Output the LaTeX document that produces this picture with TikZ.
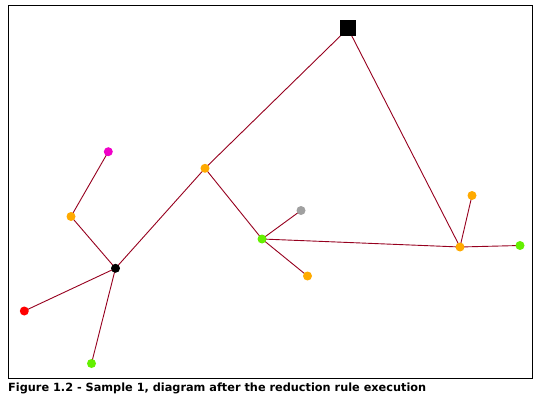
\documentclass[tikz,border=0pt]{standalone}
\usepackage{fontspec}
\setmainfont{DejaVu Sans}
\usetikzlibrary{backgrounds}
\begin{document}
\begin{tikzpicture}[x=1pt,y=-1pt,
  edge/.style={draw={rgb,255:red,150;green,0;blue,30},line width=0.9pt},
  dot/.style={circle,inner sep=0pt,minimum size=9pt,fill=#1,draw=none},
  sq/.style={rectangle,inner sep=0pt,minimum size=16pt,fill=black}]
\useasboundingbox (0,0) rectangle (539,404);
\definecolor{cOr}{RGB}{255,170,0}
\definecolor{cGr}{RGB}{100,240,0}
\definecolor{cGy}{RGB}{160,160,160}
\definecolor{cMg}{RGB}{240,0,200}
\draw[line width=1pt] (8,5.5) rectangle (532.5,378);
\node[sq] (S) at (348,28.5) {};
\node[dot=cOr] (o1) at (205,168.3) {};
\node[dot=cGr] (g1) at (262,239) {};
\node[dot=cGy] (gy) at (301,210.5) {};
\node[dot=cOr] (o2) at (307.5,276) {};
\node[dot=cOr] (o3) at (460,247) {};
\node[dot=cOr] (o4) at (472,195.5) {};
\node[dot=cGr] (g2) at (520,245.5) {};
\node[dot=cMg] (m) at (108.3,151.7) {};
\node[dot=cOr] (o5) at (71,216.5) {};
\node[dot=black] (b) at (115.5,268.3) {};
\node[dot=red] (r) at (24.3,311) {};
\node[dot=cGr] (g3) at (91.5,363.5) {};
\begin{pgfonlayer}{background}
\draw[edge] (S.center) -- (o1.center) (S.center) -- (o3.center) (o1.center) -- (b.center)
  (o1.center) -- (g1.center) (g1.center) -- (gy.center) (g1.center) -- (o2.center)
  (g1.center) -- (o3.center) (o3.center) -- (o4.center) (o3.center) -- (g2.center)
  (b.center) -- (o5.center) (o5.center) -- (m.center) (b.center) -- (r.center) (b.center) -- (g3.center);
\end{pgfonlayer}
\node[anchor=base west,inner sep=0pt,font=\bfseries\fontsize{11.3}{12}\selectfont] (cap) at (8,391.5) {Figure 1.2 - Sample 1, diagram after the reduction rule execution};
\end{tikzpicture}
\end{document}
